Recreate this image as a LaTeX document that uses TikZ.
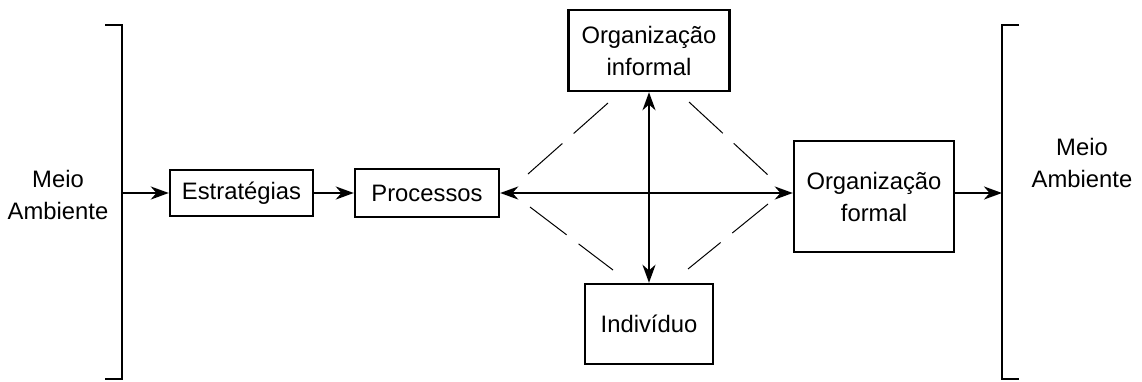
\documentclass[tikz,border=0pt]{standalone}
\usepackage{fontspec}
\setmainfont{Liberation Sans}
\usetikzlibrary{arrows.meta}
\begin{document}
\begin{tikzpicture}[x=0.5pt,y=-0.5pt,
  txt/.style={font=\fontsize{11.9}{16}\selectfont},
  box/.style={txt, draw, line width=1.2pt, inner sep=0pt, align=center},
  lbl/.style={txt, inner sep=0pt, align=center},
  tip/.tip={Stealth[length=9pt,width=6.5pt,inset=2.8pt]},
  flow/.style={line width=1.2pt, -tip},
  both/.style={line width=1.2pt, tip-tip},
  link/.style={line width=0.5pt, dash pattern=on 23pt off 7.5pt},
  bracket/.style={line width=1.2pt, line join=miter}]
\useasboundingbox (0,0) rectangle (1142,381);

% environment brackets
\draw[bracket] (105,25) -- (122,25) -- (122,379) -- (105,379);
\coordinate (lb) at (122,193);
\draw[bracket] (1019,25) -- (1002,25) -- (1002,379) -- (1019,379);
\coordinate (rb) at (1002,193);

\node[lbl] (envin) at (58,195) {Meio\\Ambiente};
\node[lbl] (envout) at (1082,163) {Meio\\Ambiente};

% boxes
\node[box, minimum width=71.5pt, minimum height=23pt] (estr) at (241.5,193) {Estratégias};
\node[box, minimum width=72pt, minimum height=24pt] (proc) at (427,193) {Processos};
\node[box, minimum width=80.5pt, minimum height=40.5pt] (inf) at (649,50.5) {Organização\\informal};
\node[box, minimum width=64pt, minimum height=40pt] (ind) at (649,324) {Indivíduo};
\node[box, minimum width=80pt, minimum height=55.5pt] (form) at (874,196.5) {Organização\\formal};

% main flow
\draw[flow] (lb) -- (estr.west);
\draw[flow] (estr) -- (proc);
\draw[both] (proc.east) -- (proc.east -| form.west);
\draw[both] (inf) -- (ind);
\draw[flow] (form.east |- rb) -- (rb);

% dashed links around the centre
\coordinate (ula) at (608,103); \coordinate (ulb) at (528,174);
\coordinate (ura) at (689,102); \coordinate (urb) at (768,175);
\coordinate (lla) at (530,207); \coordinate (llb) at (613,270);
\coordinate (lra) at (768,204); \coordinate (lrb) at (688,269);
\draw[link] (ula) -- (ulb);
\draw[link] (ura) -- (urb);
\draw[link] (lla) -- (llb);
\draw[link] (lra) -- (lrb);
\end{tikzpicture}
\end{document}
